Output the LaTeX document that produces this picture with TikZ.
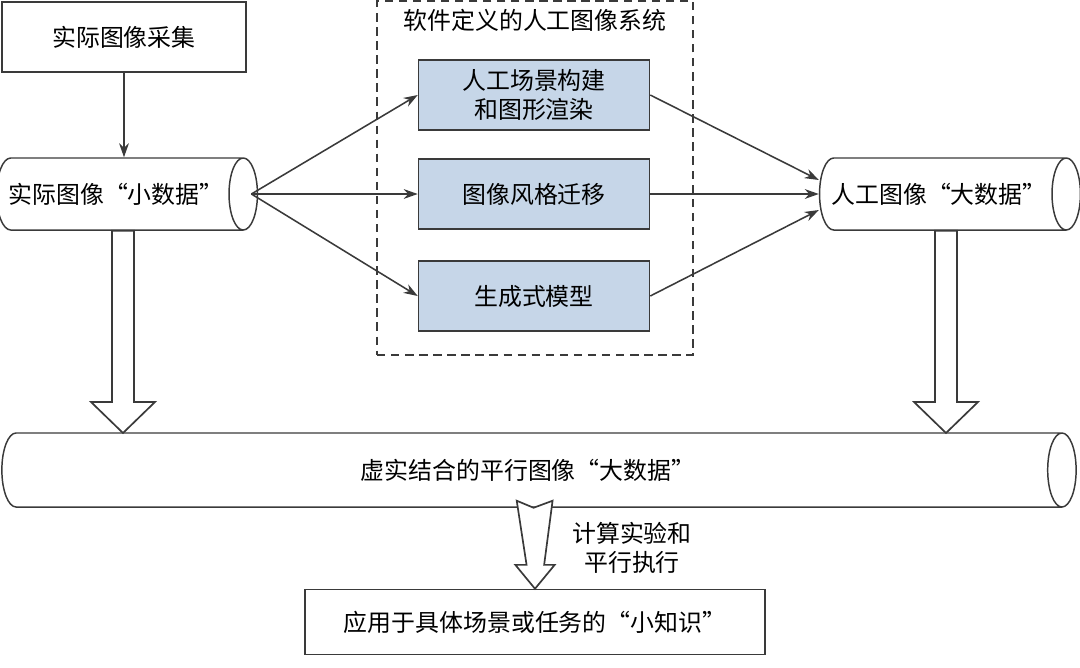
\documentclass[tikz,border=0pt]{standalone}
\usepackage{fontspec}
\setmainfont{Noto Sans CJK SC}
\usetikzlibrary{shapes.geometric,arrows.meta,positioning,calc}

\definecolor{linegray}{HTML}{3A3A3A}
\definecolor{boxblue}{HTML}{C6D6E8}

\tikzset{
  box/.style={draw=linegray, line width=1.05pt, minimum width=6.1cm, minimum height=1.75cm},
  bluebox/.style={box, fill=boxblue, minimum width=5.775cm, align=center},
  datacyl/.style={cylinder, draw=linegray, line width=1.05pt, aspect=0.9, minimum width=1.8cm,
    anchor=shape center},
  arr/.style={-{Stealth[length=10pt,width=7pt]}, draw=linegray, line width=1.1pt},
  hollow/.style={draw=linegray, line width=1.2pt, fill=white, line join=miter},
}

% 空心箭头
\newcommand{\hollowdown}[2]{%
  \draw[hollow] let \p1=(#1), \p2=(#2) in
    (\x2-7.8pt,\y1) -- (\x2-7.8pt,\y2+22pt) -- (\x2-22.7pt,\y2+22pt) -- (\x2,\y2)
    -- (\x2+22.7pt,\y2+22pt) -- (\x2+7.8pt,\y2+22pt) -- (\x2+7.8pt,\y1) -- cycle;
}

\begin{document}
\begin{tikzpicture}[x=0.025cm, y=-0.025cm, font=\fontsize{17}{21}\selectfont]
  \useasboundingbox (0,0) rectangle (1080,667);

  % 虚线框
  \node[draw=linegray, dash pattern=on 6pt off 4pt, line width=1pt,
        minimum width=7.9cm, minimum height=8.85cm] (system) at (535,178) {};
  \node (systitle) at (535,20) {软件定义的人工图像系统};

  % 节点
  \node[box] (capture) at (124,37) {实际图像采集};
  \node[datacyl, minimum height=6.25cm] (smallData) at (127,194) {实际图像“小数据”};
  \node[bluebox] (render) at (534,95) {人工场景构建\\和图形渲染};
  \node[bluebox] (transfer) at (534,194) {图像风格迁移};
  \node[bluebox] (generative) at (534,296) {生成式模型};
  \node[datacyl, minimum height=6.25cm] (artData) at (950,194) {人工图像“大数据”};
  \node[datacyl, minimum height=26.85cm, minimum width=1.85cm] (parallelData) at (539,470)
    {虚实结合的平行图像“大数据”};
  \node[box, minimum width=11.5cm, minimum height=1.625cm] (knowledge) at (535,622)
    {应用于具体场景或任务的“小知识”};
  \node[align=center] (experiment) at (632,548) {计算实验和\\平行执行};

  % 箭头
  \draw[arr] (capture.south) -- (capture.south |- smallData.north);
  \coordinate (fan) at ([xshift=-0.17cm]smallData.top);
  \foreach \b in {render,transfer,generative}
    \draw[arr] (fan) -- (\b.west);
  \draw[arr] (render.east) -- ([yshift=0.35cm]artData.bottom);
  \draw[arr] (transfer.east) -- (artData.bottom);
  \draw[arr] (generative.east) -- ([yshift=-0.4cm]artData.bottom);

  % 空心箭头
  \coordinate (leftTip) at (123,433);
  \coordinate (rightTip) at (946,433);
  \hollowdown{smallData.south}{leftTip}
  \hollowdown{artData.south}{rightTip}
  \draw[hollow] let \p1=(parallelData.south), \p2=(knowledge.north) in
    (\x2-13pt,\y1+5pt) -- (\x2-1pt,\y1) -- (\x2+12.5pt,\y1+5pt) -- (\x2+6.5pt,\y2+17pt)
    -- (\x2+14pt,\y2+17pt) -- (\x2,\y2) -- (\x2-14pt,\y2+17pt) -- (\x2-6pt,\y2+17pt) -- cycle;
\end{tikzpicture}
\end{document}
